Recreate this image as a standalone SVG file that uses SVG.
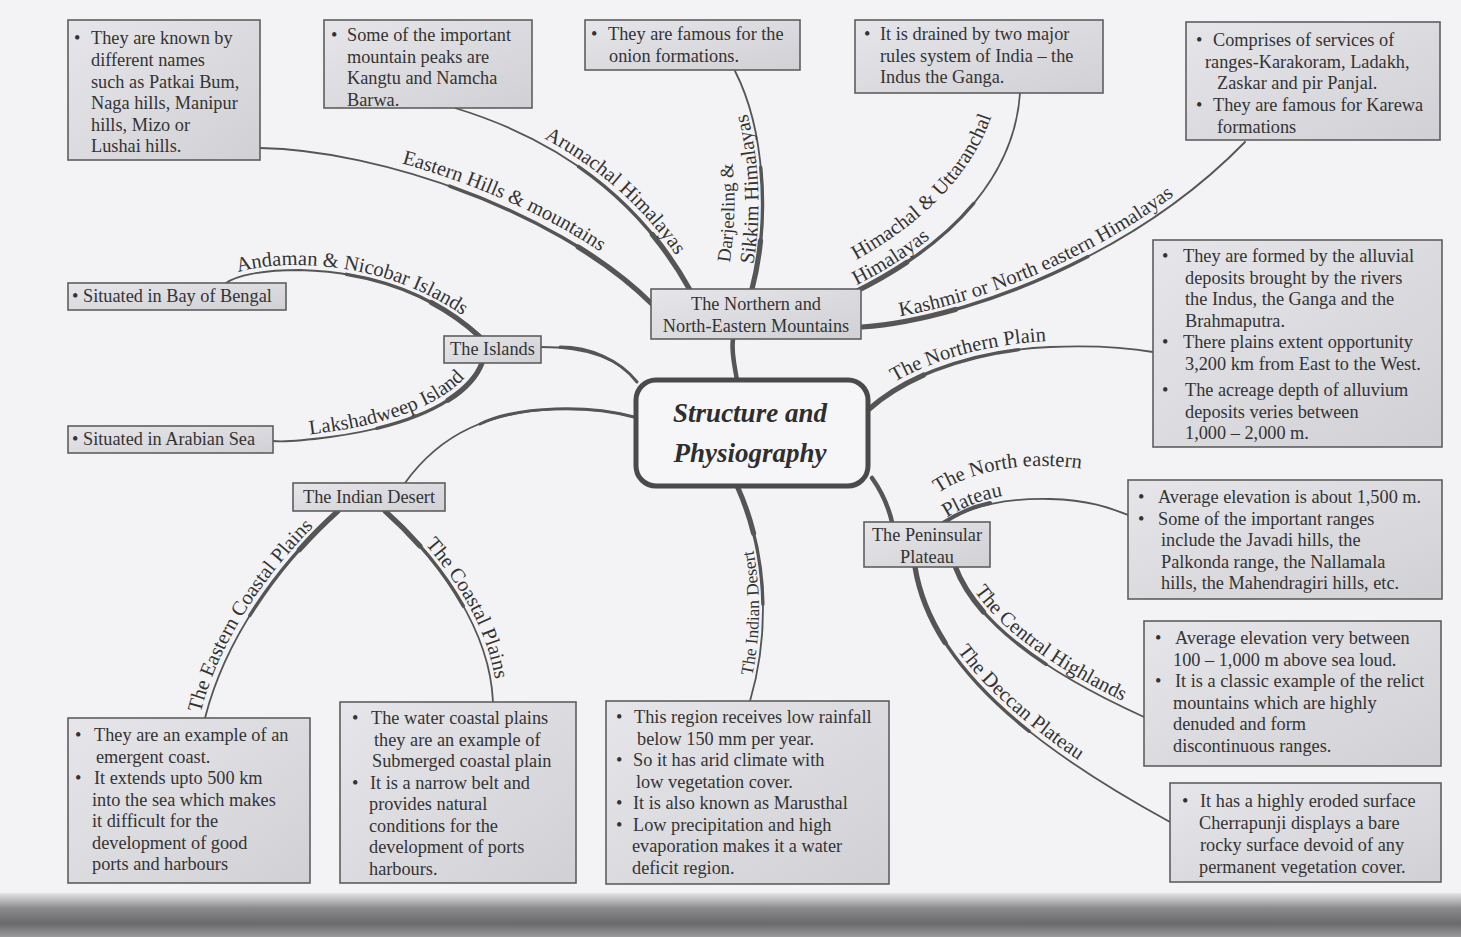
<svg xmlns="http://www.w3.org/2000/svg" width="1461" height="937" viewBox="0 0 1461 937">
<defs>
<linearGradient id="bx" x1="0" y1="0" x2="1" y2="1">
<stop offset="0" stop-color="#e6e6ea"/>
<stop offset="1" stop-color="#d0d0d5"/>
</linearGradient>
<linearGradient id="band" x1="0" y1="0" x2="0" y2="1">
<stop offset="0" stop-color="#e4e4e6"/>
<stop offset="0.35" stop-color="#8a8a8c"/>
<stop offset="0.7" stop-color="#6a6a6c"/>
<stop offset="1" stop-color="#9a9a9c"/>
</linearGradient>
<path id="p_east" pathLength="100" d="M653,305 C560,212 380,150 260,148"/>
<path id="p_arun" pathLength="100" d="M690,290 C640,200 560,140 455,108"/>
<path id="p_darj" pathLength="100" d="M752,289 C770,220 765,130 735,71"/>
<path id="p_hima" pathLength="100" d="M855,292 C960,240 1015,170 1020,93"/>
<path id="p_kash" pathLength="100" d="M862,327 C960,320 1130,260 1245,142"/>
<path id="p_plain" pathLength="100" d="M868,410 C910,372 980,350 1050,347 C1100,345 1130,348 1153,352"/>
<path id="p_and" pathLength="100" d="M480,337 C440,300 380,272 300,270 C260,270 236,276 226,283"/>
<path id="p_lak" pathLength="100" d="M482,363 C470,395 420,425 330,437 C300,441 285,442 273,441"/>
<path id="p_ecoast" pathLength="100" d="M338,511 C300,545 230,620 205,718"/>
<path id="p_coast" pathLength="100" d="M385,511 C440,560 490,630 493,702"/>
<path id="p_indd" pathLength="100" d="M738,488 C770,560 768,640 750,701"/>
<path id="p_nep" pathLength="100" d="M943,523 C970,505 1010,498 1050,499 C1090,500 1110,508 1128,515"/>
<path id="p_cent" pathLength="100" d="M955,566 C975,620 1040,670 1144,717"/>
<path id="p_decc" pathLength="100" d="M915,567 C930,660 1020,740 1170,822"/>
<path id="l_east" d="M260,141 C382,143 563,205 658,298"/>
<path id="l_arun" d="M460,104 C565,136 645,196 695,286"/>
<path id="l_darj1" d="M724,289 C742,220 737,130 707,71"/>
<path id="l_darj2" d="M748,289 C766,220 761,130 731,71"/>
<path id="l_hima1" d="M835,271 C940,219 995,149 1000,72"/>
<path id="l_hima2" d="M851,288 C956,236 1011,166 1016,89"/>
<path id="l_kash" d="M862,321 C960,314 1128,254 1242,136"/>
<path id="l_plain" d="M866,402 C908,366 978,344 1050,341 C1100,339 1130,342 1153,346"/>
<path id="l_and" d="M226,278 C236,271 260,265 300,265 C380,267 440,295 482,330"/>
<path id="l_lak" d="M273,436 C285,437 300,436 328,432 C416,420 465,390 477,358"/>
<path id="l_ecoast" d="M200,715 C225,617 295,542 333,508"/>
<path id="l_coast" d="M389,508 C444,557 494,627 497,699"/>
<path id="l_indd" d="M746,701 C764,640 766,560 734,488"/>
<path id="l_nep1" d="M934,496 C958,478 998,466 1040,466 C1070,466 1090,469 1105,474"/>
<path id="l_nep2" d="M940,522 C965,505 990,496 1020,494"/>
<path id="l_cent" d="M959,562 C979,616 1044,666 1148,713"/>
<path id="l_decc" d="M919,563 C934,656 1024,736 1174,818"/>
</defs>
<style>
.t{font-family:"Liberation Serif",serif;font-size:18.3px;fill:#333}
.nt{font-family:"Liberation Serif",serif;font-size:18.3px;fill:#333;text-anchor:middle}
.lb{font-family:"Liberation Serif",serif;font-size:20.5px;fill:#333}
.box{fill:url(#bx);stroke:#5e5e5e;stroke-width:1.6}
.c{fill:none;stroke:#555;stroke-linecap:round}
.c1{stroke-width:1.8}
.c2{stroke-width:3.4;stroke-dasharray:55 200}
.c3{stroke-width:5.2;stroke-dasharray:22 200}
.ttl{font-family:"Liberation Serif",serif;font-size:27px;font-weight:bold;font-style:italic;fill:#2e2e2e;text-anchor:middle}
</style>
<rect x="0" y="0" width="1461" height="937" fill="#f3f3f5"/>
<rect x="0" y="893" width="1461" height="44" fill="url(#band)"/>

<g id="connectors">
<g class="c c1">
<use href="#p_east"/><use href="#p_arun"/><use href="#p_darj"/><use href="#p_hima"/><use href="#p_kash"/><use href="#p_plain"/><use href="#p_and"/><use href="#p_lak"/><use href="#p_ecoast"/><use href="#p_coast"/><use href="#p_indd"/><use href="#p_nep"/><use href="#p_cent"/><use href="#p_decc"/>
<path d="M637,382 C620,360 590,347 541,347"/>
<path d="M634,417 C590,405 520,405 470,428 C440,442 420,462 405,483"/>
</g>
<g class="c c2">
<use href="#p_east"/><use href="#p_arun"/><use href="#p_darj"/><use href="#p_hima"/><use href="#p_kash"/><use href="#p_plain"/><use href="#p_and"/><use href="#p_lak"/><use href="#p_ecoast"/><use href="#p_coast"/><use href="#p_indd"/><use href="#p_cent"/><use href="#p_decc"/>
</g>
<g class="c c3">
<use href="#p_east"/><use href="#p_arun"/><use href="#p_darj"/><use href="#p_hima"/><use href="#p_kash"/><use href="#p_plain"/><use href="#p_and"/><use href="#p_lak"/><use href="#p_ecoast"/><use href="#p_coast"/><use href="#p_indd"/><use href="#p_cent"/><use href="#p_decc"/>
</g>
<path class="c" stroke-width="3" d="M637,382 C620,360 590,347 560,347"/>
<path class="c" stroke-width="3" d="M634,417 C590,405 520,405 480,424"/>
<path class="c" stroke-width="4.5" d="M737,380 C735,368 731,352 733,339"/>
<path class="c" stroke-width="4.5" d="M872,478 C882,492 888,505 892,522"/>
<path class="c" stroke-width="4" d="M943,523 C960,512 975,506 990,503"/>

<g class="lb">
<text><textPath href="#l_east" startOffset="58%" text-anchor="middle">Eastern Hills &amp; mountains</textPath></text>
<text><textPath href="#l_arun" startOffset="59%" text-anchor="middle">Arunachal Himalayas</textPath></text>
<text font-size="19"><textPath href="#l_darj1" startOffset="27">Darjeeling &amp;</textPath></text>
<text><textPath href="#l_darj2" startOffset="25">Sikkim Himalayas</textPath></text>
<text><textPath href="#l_hima1" startOffset="46%" text-anchor="middle">Himachal &amp; Uttaranchal</textPath></text>
<text><textPath href="#l_hima2" startOffset="6">Himalayas</textPath></text>
<text><textPath href="#l_kash" startOffset="44%" text-anchor="middle">Kashmir or North eastern Himalayas</textPath></text>
<text><textPath href="#l_plain" startOffset="38%" text-anchor="middle">The Northern Plain</textPath></text>
<text><textPath href="#l_and" startOffset="48%" text-anchor="middle">Andaman &amp; Nicobar Islands</textPath></text>
<text><textPath href="#l_lak" startOffset="53%" text-anchor="middle">Lakshadweep Island</textPath></text>
<text><textPath href="#l_ecoast" startOffset="45%" text-anchor="middle">The Eastern Coastal Plains</textPath></text>
<text><textPath href="#l_coast" startOffset="57%" text-anchor="middle">The Coastal Plains</textPath></text>
<text font-size="17.5"><textPath href="#l_indd" startOffset="41%" text-anchor="middle">The Indian Desert</textPath></text>
<text><textPath href="#l_nep1" startOffset="5">The North eastern</textPath></text>
<text><textPath href="#l_nep2" startOffset="8">Plateau</textPath></text>
<text><textPath href="#l_cent" startOffset="51%" text-anchor="middle">The Central Highlands</textPath></text>
<text><textPath href="#l_decc" startOffset="48%" text-anchor="middle">The Deccan Plateau</textPath></text>
</g>
</g>

<g id="center">
<rect x="636" y="380" width="232" height="106" rx="20" fill="#f6f6f8" stroke="#4a4a4a" stroke-width="5"/>
<text class="ttl" x="750" y="422">Structure and</text>
<text class="ttl" x="750" y="462">Physiography</text>
</g>

<g id="n-northern">
<rect class="box" x="651" y="289" width="210" height="50"/>
<text class="nt" x="756" y="310">The Northern and</text>
<text class="nt" x="756" y="331.5">North-Eastern Mountains</text>
</g>
<g id="n-islands">
<rect class="box" x="444" y="336" width="97" height="27"/>
<text class="nt" x="492.5" y="355">The Islands</text>
</g>
<g id="n-desert">
<rect class="box" x="293" y="483" width="152" height="28"/>
<text class="nt" x="369" y="503">The Indian Desert</text>
</g>
<g id="n-peninsular">
<rect class="box" x="864" y="522" width="126" height="45"/>
<text class="nt" x="927" y="541">The Peninsular</text>
<text class="nt" x="927" y="563">Plateau</text>
</g>

<g id="b-eastern-hills" class="t">
<rect class="box" x="68" y="20" width="192" height="140"/>
<text x="74" y="44">•<tspan x="91">They are known by</tspan></text>
<text x="91" y="66">different names</text>
<text x="91" y="87.5">such as Patkai Bum,</text>
<text x="91" y="109">Naga hills, Manipur</text>
<text x="91" y="130.5">hills, Mizo or</text>
<text x="91" y="152">Lushai hills.</text>
</g>
<g id="b-arunachal" class="t">
<rect class="box" x="324" y="20" width="208" height="88"/>
<text x="331" y="41">•<tspan x="347">Some of the important</tspan></text>
<text x="347" y="62.5">mountain peaks are</text>
<text x="347" y="84">Kangtu and Namcha</text>
<text x="347" y="105.5">Barwa.</text>
</g>
<g id="b-darjeeling" class="t">
<rect class="box" x="585" y="20" width="215" height="50"/>
<text x="591" y="40">•<tspan x="608">They are famous for the</tspan></text>
<text x="609" y="62">onion formations.</text>
</g>
<g id="b-himachal" class="t">
<rect class="box" x="855" y="20" width="248" height="73"/>
<text x="864" y="40">•<tspan x="880">It is drained by two major</tspan></text>
<text x="880" y="61.5">rules system of India – the</text>
<text x="880" y="83">Indus the Ganga.</text>
</g>
<g id="b-kashmir" class="t">
<rect class="box" x="1186" y="22" width="254" height="118"/>
<text x="1196" y="46">•<tspan x="1213">Comprises of services of</tspan></text>
<text x="1205" y="67.5">ranges-Karakoram, Ladakh,</text>
<text x="1217" y="89">Zaskar and pir Panjal.</text>
<text x="1196" y="111">•<tspan x="1213">They are famous for Karewa</tspan></text>
<text x="1217" y="132.5">formations</text>
</g>
<g id="b-northern-plain" class="t">
<rect class="box" x="1153" y="240" width="289" height="207"/>
<text x="1162" y="262">•<tspan x="1183">They are formed by the alluvial</tspan></text>
<text x="1185" y="283.5">deposits brought by the rivers</text>
<text x="1185" y="305">the Indus, the Ganga and the</text>
<text x="1185" y="326.5">Brahmaputra.</text>
<text x="1162" y="348">•<tspan x="1183">There plains extent opportunity</tspan></text>
<text x="1185" y="369.5">3,200 km from East to the West.</text>
<text x="1162" y="396">•<tspan x="1185">The acreage depth of alluvium</tspan></text>
<text x="1185" y="417.5">deposits veries between</text>
<text x="1185" y="439">1,000 – 2,000 m.</text>
</g>
<g id="b-ne-plateau" class="t">
<rect class="box" x="1128" y="480" width="314" height="119"/>
<text x="1138" y="503">•<tspan x="1158">Average elevation is about 1,500 m.</tspan></text>
<text x="1138" y="524.5">•<tspan x="1158">Some of the important ranges</tspan></text>
<text x="1161" y="546">include the Javadi hills, the</text>
<text x="1161" y="567.5">Palkonda range, the Nallamala</text>
<text x="1161" y="589">hills, the Mahendragiri hills, etc.</text>
</g>
<g id="b-central" class="t">
<rect class="box" x="1144" y="621" width="297" height="145"/>
<text x="1155" y="644">•<tspan x="1175">Average elevation very between</tspan></text>
<text x="1173" y="665.5">100 – 1,000 m above sea loud.</text>
<text x="1155" y="687">•<tspan x="1175">It is a classic example of the relict</tspan></text>
<text x="1173" y="708.5">mountains which are highly</text>
<text x="1173" y="730">denuded and form</text>
<text x="1173" y="751.5">discontinuous ranges.</text>
</g>
<g id="b-deccan" class="t">
<rect class="box" x="1170" y="783" width="271" height="99"/>
<text x="1182" y="807">•<tspan x="1200">It has a highly eroded surface</tspan></text>
<text x="1199" y="829">Cherrapunji displays a bare</text>
<text x="1200" y="851">rocky surface devoid of any</text>
<text x="1199" y="873">permanent vegetation cover.</text>
</g>
<g id="b-indian-desert" class="t">
<rect class="box" x="606" y="701" width="283" height="183"/>
<text x="616" y="723">•<tspan x="634">This region receives low rainfall</tspan></text>
<text x="637" y="744.5">below 150 mm per year.</text>
<text x="616" y="766">•<tspan x="633">So it has arid climate with</tspan></text>
<text x="636" y="787.5">low vegetation cover.</text>
<text x="616" y="809">•<tspan x="633">It is also known as Marusthal</tspan></text>
<text x="616" y="830.5">•<tspan x="633">Low precipitation and high</tspan></text>
<text x="632" y="852">evaporation makes it a water</text>
<text x="632" y="873.5">deficit region.</text>
</g>
<g id="b-coastal" class="t">
<rect class="box" x="340" y="702" width="236" height="181"/>
<text x="352" y="724">•<tspan x="371">The water coastal plains</tspan></text>
<text x="374" y="745.5">they are an example of</text>
<text x="372" y="767">Submerged coastal plain</text>
<text x="352" y="788.5">•<tspan x="370">It is a narrow belt and</tspan></text>
<text x="369" y="810">provides natural</text>
<text x="369" y="831.5">conditions for the</text>
<text x="369" y="853">development of ports</text>
<text x="369" y="874.5">harbours.</text>
</g>
<g id="b-eastern-coastal" class="t">
<rect class="box" x="68" y="718" width="242" height="165"/>
<text x="75" y="741">•<tspan x="94">They are an example of an</tspan></text>
<text x="96" y="762.5">emergent coast.</text>
<text x="75" y="784">•<tspan x="94">It extends upto 500 km</tspan></text>
<text x="92" y="805.5">into the sea which makes</text>
<text x="92" y="827">it difficult for the</text>
<text x="92" y="848.5">development of good</text>
<text x="92" y="870">ports and harbours</text>
</g>
<g id="b-andaman" class="t">
<rect class="box" x="68" y="283" width="218" height="27"/>
<text x="72" y="302">• Situated in Bay of Bengal</text>
</g>
<g id="b-lakshadweep" class="t">
<rect class="box" x="68" y="426" width="205" height="27"/>
<text x="72" y="445">• Situated in Arabian Sea</text>
</g>
</svg>
